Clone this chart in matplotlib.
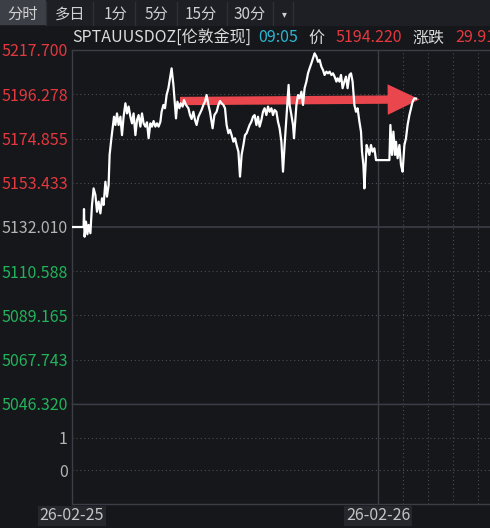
import matplotlib.pyplot as plt
from matplotlib.patches import Rectangle

plt.rcParams["font.family"] = ["Noto Sans CJK SC", "DejaVu Sans"]

# minutes since session start, price
times = [
    0, 58, 60, 63, 70, 77, 83, 92, 100, 108, 117, 125, 133, 142, 150, 158,
    167, 175, 183, 188, 197, 203, 210, 217, 225, 233, 242, 250, 258, 267,
    275, 283, 292, 300, 308, 317, 325, 333, 342, 350, 358, 367, 375, 383,
    392, 400, 408, 417, 425, 433, 442, 448, 457, 465, 473, 482, 490, 498,
    507, 515, 520, 527, 537, 543, 553, 560, 570, 582, 590, 598, 607, 615,
    623, 632, 640, 648, 657, 665, 673, 682, 690, 698, 703, 712, 723, 732,
    740, 748, 757, 765, 773, 782, 790, 798, 807, 815, 823, 832, 840, 848,
    857, 865, 873, 882, 888, 897, 905, 913, 922, 930, 938, 947, 955, 963,
    972, 980, 988, 997, 1005, 1013, 1022, 1030, 1038, 1047, 1055, 1063,
    1072, 1077, 1083, 1088, 1097, 1105, 1110, 1117, 1122, 1130, 1138, 1147,
    1155, 1163, 1172, 1180, 1188, 1197, 1205, 1213, 1222, 1230, 1238, 1247,
    1255, 1263, 1272, 1280, 1288, 1297, 1305, 1313, 1322, 1328, 1337, 1345,
    1353, 1362, 1370, 1378, 1387, 1395, 1403, 1408, 1412, 1420, 1428, 1437,
    1445, 1450, 1457, 1462, 1467, 1473, 1478, 1487, 1495, 1503, 1512, 1520,
    1587, 1592, 1600, 1607, 1615, 1620, 1628, 1637, 1645, 1653, 1662, 1670,
    1678, 1687, 1695, 1703, 1712, 1720,
]
prices = [
    5132.0, 5132.0, 5140.7, 5127.3, 5134.6, 5128.5, 5133.0, 5129.0, 5142.7,
    5150.7, 5147.5, 5139.4, 5144.3, 5138.6, 5145.9, 5142.7, 5153.9, 5146.7,
    5152.3, 5166.9, 5175.0, 5179.8, 5185.4, 5181.4, 5187.0, 5181.4, 5185.4,
    5176.5, 5185.4, 5191.9, 5187.0, 5190.3, 5185.4, 5182.2, 5187.0, 5176.5,
    5183.8, 5186.2, 5180.6, 5187.0, 5182.2, 5180.6, 5182.7, 5175.0, 5182.2,
    5180.6, 5183.3, 5180.6, 5182.2, 5180.6, 5183.0, 5187.8, 5191.1, 5189.5,
    5195.9, 5199.2, 5204.0, 5208.8, 5200.8, 5191.1, 5184.6, 5192.7, 5189.5,
    5191.9, 5190.3, 5193.5, 5191.1, 5189.5, 5186.2, 5184.3, 5187.8, 5183.8,
    5181.4, 5185.4, 5187.0, 5188.7, 5191.1, 5192.7, 5195.9, 5191.1, 5187.8,
    5183.0, 5179.8, 5186.2, 5187.8, 5191.1, 5193.0, 5191.9, 5191.1, 5189.5,
    5181.4, 5177.4, 5179.0, 5176.5, 5173.3, 5175.0, 5171.7, 5168.5, 5156.4,
    5166.9, 5171.7, 5176.5, 5177.4, 5179.8, 5181.4, 5183.0, 5185.4, 5186.2,
    5181.4, 5185.4, 5180.6, 5183.8, 5187.8, 5189.5, 5186.2, 5190.3, 5187.8,
    5189.5, 5186.2, 5188.7, 5187.8, 5183.0, 5179.8, 5173.3, 5158.8, 5171.7,
    5184.6, 5191.9, 5200.8, 5191.1, 5186.2, 5181.4, 5175.0, 5184.6, 5191.1,
    5195.9, 5194.3, 5197.5, 5191.1, 5199.2, 5202.4, 5206.4, 5208.8, 5211.3,
    5213.7, 5216.1, 5214.5, 5212.0, 5212.9, 5209.6, 5208.0, 5205.6, 5207.2,
    5206.4, 5207.2, 5205.6, 5206.4, 5204.8, 5202.4, 5204.0, 5202.4, 5205.6,
    5199.2, 5202.4, 5204.8, 5199.2, 5205.6, 5206.4, 5202.4, 5195.9, 5191.1,
    5187.8, 5189.5, 5183.0, 5178.2, 5168.5, 5162.0, 5150.7, 5160.4, 5171.7,
    5170.1, 5166.9, 5171.7, 5168.5, 5170.1, 5164.4, 5164.4, 5181.4, 5166.9,
    5178.2, 5166.9, 5173.3, 5165.3, 5171.7, 5162.0, 5158.8, 5171.7, 5175.0,
    5181.4, 5186.2, 5189.5, 5192.7, 5194.3, 5194.2,
]

price_ticks = [5217.700, 5196.278, 5174.855, 5153.433, 5132.010,
               5110.588, 5089.165, 5067.743, 5046.320]
prev_close = 5132.010
sub_ticks = [0, 1]
session_end = 2090
day_break = 1530
hour_lines = [1655, 1780, 1905, 2030]
date_labels = ["26-02-25", "26-02-26"]
date_positions = [0, day_break]

tabs = ["分时", "多日", "1分", "5分", "15分", "30分", "▾"]
arrow_start = (540, 5193.0)
arrow_end = (1738, 5193.8)

BG = "#15171b"
GRID = "#4a4d53"
SPINE = "#3b3e44"
RED = "#e3393f"
GREEN = "#22b35b"
GRAY = "#b4b4b4"

W, H = 490, 528
fig = plt.figure(figsize=(W / 100, H / 100), dpi=100, facecolor=BG)


def fx(px):
    return px / W


def fy(py):
    return 1 - py / H


ax = fig.add_axes([fx(72), fy(404), 1 - fx(72), fy(50) - fy(404)])
sub = fig.add_axes([fx(72), fy(504), 1 - fx(72), fy(404) - fy(504)])

for a in (ax, sub):
    a.set_facecolor(BG)
    a.set_xlim(0, session_end)
    a.set_xticks([])
    for s in a.spines.values():
        s.set_color(SPINE)
        s.set_linewidth(1.0)
    a.spines["right"].set_visible(False)
    a.tick_params(axis="y", length=0, pad=3, labelsize=11.5)
    a.axvline(day_break, color=SPINE, lw=1.0, zorder=1)
    for h in hour_lines:
        a.axvline(h, color=GRID, lw=0.8, ls=(0, (1, 2.5)), zorder=1)

ax.set_ylim(price_ticks[-1], price_ticks[0])
ax.set_yticks(price_ticks)
ax.set_yticklabels([f"{v:.3f}" for v in price_ticks])
for lbl, v in zip(ax.get_yticklabels(), price_ticks):
    if v > prev_close + 0.001:
        lbl.set_color(RED)
    elif v < prev_close - 0.001:
        lbl.set_color(GREEN)
    else:
        lbl.set_color(GRAY)
for v in price_ticks[1:-1]:
    if abs(v - prev_close) < 0.001:
        ax.axhline(v, color=SPINE, lw=1.2, zorder=1)
    else:
        ax.axhline(v, color=GRID, lw=0.8, ls=(0, (1, 2.5)), zorder=1)

ax.annotate(
    "", xy=arrow_end, xytext=arrow_start,
    arrowprops=dict(arrowstyle="simple,head_length=1.15,head_width=1.1,tail_width=0.3",
                    mutation_scale=20, color="#e9474d", shrinkA=0, shrinkB=0, lw=0),
    zorder=2,
)
ax.plot(times, prices, color="white", lw=1.6, zorder=3)

sub.set_ylim(-1.05, 2.04)
sub.set_yticks(sub_ticks)
sub.set_yticklabels([str(v) for v in sub_ticks], color=GRAY)
for v in sub_ticks:
    sub.axhline(v, color=GRID, lw=0.8, ls=(0, (1, 2.5)), zorder=1)

# date labels under the chart
for lab, t in zip(date_labels, date_positions):
    xd = sub.transData.transform((t, 0))[0] / fig.bbox.width
    fig.text(xd, fy(516), lab, color="#c4c4c4", fontsize=11.5, ha="center", va="center",
             bbox=dict(boxstyle="square,pad=0.12", fc="#25272c", ec="none"))

# tab bar
fig.patches.append(Rectangle((0, fy(26)), 1, fy(0) - fy(26), transform=fig.transFigure,
                             fc="#1d1f24", ec="none", zorder=0))
fig.patches.append(Rectangle((0, fy(25)), fx(46), fy(0) - fy(25), transform=fig.transFigure,
                             fc="#3c3f46", ec="none", zorder=0))
tab_centers = [23, 70, 115, 156, 201, 250, 284]
separators = [46, 93, 135, 177, 227, 273, 293]
for name, cx in zip(tabs, tab_centers):
    fs = 7 if name == "▾" else 11
    fig.text(fx(cx), fy(14), name, color="#d0d0d0", fontsize=fs, ha="center", va="center")
for sx in separators:
    fig.add_artist(plt.Line2D([fx(sx), fx(sx)], [fy(2), fy(25)], color="#2e3036", lw=1))

# header line
header = [
    (72, "SPTAUUSDOZ[伦敦金现]", "#dcdcdc"),
    (258, "09:05", "#2cb6d2"),
    (308, "价", "#dcdcdc"),
    (335, "5194.220", RED),
    (412, "涨跌", "#dcdcdc"),
    (455, "29.91", RED),
]
for px, txt, col in header:
    fig.text(fx(px), fy(38), txt, color=col, fontsize=11.5, ha="left", va="center")

fig.savefig("out.png", dpi=100, facecolor=BG)
